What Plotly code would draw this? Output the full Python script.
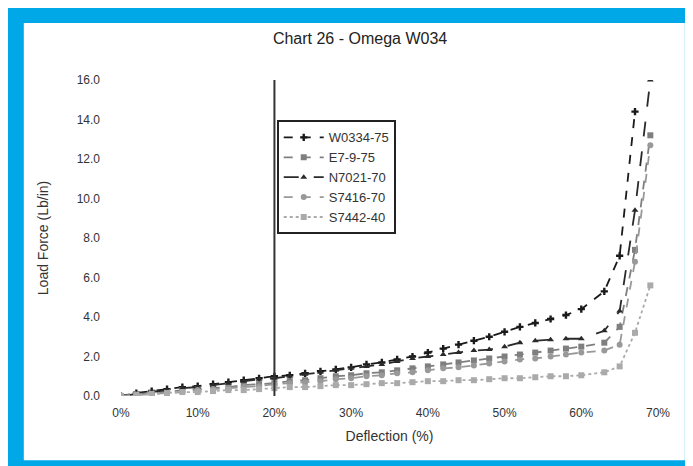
import plotly.graph_objects as go

# deflection (%) shared by every sample
deflection = [0, 2, 4, 6, 8, 10, 12, 14, 16, 18, 20, 22, 24, 26, 28, 30, 32, 34, 36, 38,
              40, 42, 44, 46, 48, 50, 52, 54, 56, 58, 60, 63, 65, 67, 69]

w0334_75 = [0.0, 0.15, 0.25, 0.35, 0.45, 0.5, 0.6, 0.7, 0.8, 0.9, 1.0, 1.05, 1.15, 1.25, 1.35,
            1.45, 1.6, 1.7, 1.85, 2.0, 2.2, 2.4, 2.6, 2.8, 3.0, 3.25, 3.5, 3.7, 3.9, 4.1,
            4.4, 5.3, 7.1, 14.4, None]
e7_9_75 = [0.0, 0.1, 0.15, 0.2, 0.3, 0.35, 0.4, 0.45, 0.55, 0.6, 0.65, 0.75, 0.8, 0.9, 1.0,
           1.05, 1.15, 1.2, 1.3, 1.4, 1.5, 1.6, 1.7, 1.8, 1.9, 2.0, 2.1, 2.2, 2.3, 2.4,
           2.5, 2.7, 3.5, 7.4, 13.2]
n7021_70 = [0.0, 0.1, 0.2, 0.3, 0.4, 0.45, 0.55, 0.65, 0.75, 0.85, 0.9, 1.0, 1.1, 1.2, 1.3,
            1.4, 1.5, 1.6, 1.75, 1.9, 2.0, 2.1, 2.2, 2.3, 2.35, 2.5, 2.7, 2.8, 2.85, 2.9,
            2.9, 3.3, 4.3, 9.4, 16.0]
s7416_70 = [0.0, 0.05, 0.1, 0.15, 0.2, 0.3, 0.35, 0.4, 0.45, 0.5, 0.6, 0.65, 0.7, 0.75, 0.85,
            0.9, 1.0, 1.05, 1.15, 1.2, 1.3, 1.4, 1.45, 1.55, 1.65, 1.75, 1.85, 1.9, 2.0, 2.1,
            2.2, 2.3, 2.6, 6.8, 12.7]
s7442_40 = [0.0, 0.05, 0.1, 0.15, 0.2, 0.2, 0.25, 0.3, 0.3, 0.35, 0.4, 0.45, 0.45, 0.5, 0.55,
            0.55, 0.6, 0.65, 0.65, 0.7, 0.75, 0.75, 0.8, 0.8, 0.85, 0.9, 0.9, 0.95, 1.0, 1.0,
            1.05, 1.2, 1.5, 3.2, 5.6]

names = ['W0334-75', 'E7-9-75', 'N7021-70', 'S7416-70', 'S7442-40']
series = [w0334_75, e7_9_75, n7021_70, s7416_70, s7442_40]
colors = ['#1a1a1a', '#7f7f7f', '#2a2a2a', '#999999', '#aaaaaa']
dashes = ['dash', 'dash', 'longdash', 'dash', 'dot']
symbols = ['cross', 'square', 'triangle-up', 'circle', 'square']

y_ticks = [0, 2, 4, 6, 8, 10, 12, 14, 16]
y_labels = ['0.0', '2.0', '4.0', '6.0', '8.0', '10.0', '12.0', '14.0', '16.0']
x_ticks = [0, 10, 20, 30, 40, 50, 60, 70]
x_labels = ['0%', '10%', '20%', '30%', '40%', '50%', '60%', '70%']

FONT = 'Liberation Sans, Arial, sans-serif'
BLUE = '#00A8E8'

fig = go.Figure()
for name, vals, col, dash, sym in zip(names, series, colors, dashes, symbols):
    fig.add_trace(go.Scatter(x=deflection, y=vals, name=name, mode='lines+markers',
                             line=dict(color=col, width=1.8, dash=dash),
                             marker=dict(color=col, size=6, symbol=sym),
                             cliponaxis=True))

# white card inside the blue frame
fig.add_shape(type='rect', xref='paper', yref='paper', x0=-0.181, x1=1.05, y0=-0.203, y1=1.18,
              fillcolor='white', line=dict(width=0), layer='below')
# marker line at 20% deflection
fig.add_shape(type='line', xref='x', yref='y', x0=20, x1=20, y0=0, y1=16,
              line=dict(color='#333333', width=2))

fig.update_layout(
    width=693, height=466,
    paper_bgcolor=BLUE, plot_bgcolor='white',
    margin=dict(l=113, r=43, t=72, b=78),
    title=dict(text='Chart 26 - Omega W034', x=0.508, xanchor='center', y=0.935, yanchor='middle',
               font=dict(family=FONT, size=16, color='#222222'), pad=dict(t=0, b=0)),
    font=dict(family=FONT, size=12, color='#333333'),
    showlegend=True,
    legend=dict(x=0.29, y=0.872, xanchor='left', yanchor='top', itemwidth=40,
                bgcolor='white', bordercolor='#222222', borderwidth=2,
                font=dict(size=13, color='#333333'), tracegroupgap=0),
    xaxis=dict(range=[0, 70], tickvals=x_ticks, ticktext=x_labels, showgrid=False,
               zeroline=False, showline=False, ticks='', ticklabelstandoff=8,
               title=dict(text='Deflection (%)', standoff=12, font=dict(size=14))),
    yaxis=dict(range=[0, 16], tickvals=y_ticks, ticktext=y_labels, showgrid=False,
               zeroline=False, showline=False, ticks='', ticklabelstandoff=20,
               title=dict(text='Load Force (Lb/in)', standoff=24, font=dict(size=14))),
)

fig.write_html('out.html')
